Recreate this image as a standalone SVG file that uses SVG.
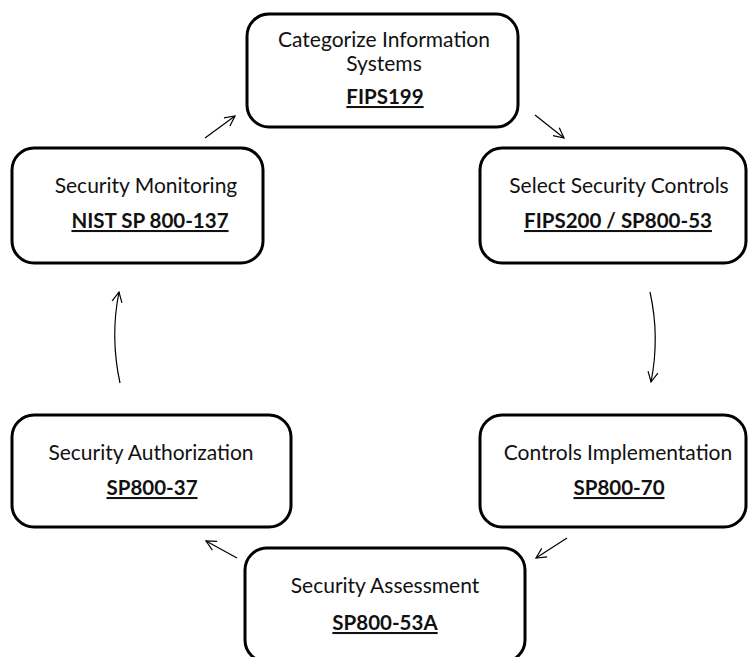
<svg xmlns="http://www.w3.org/2000/svg" width="749" height="657" viewBox="0 0 749 657">
<style>
.box{fill:#fff;stroke:#000;stroke-width:3}
.t{font-family:Lato,"Open Sans","Liberation Sans",sans-serif;font-size:21px;fill:#111;text-anchor:middle}
.b{font-weight:bold;font-size:20.5px;text-decoration:underline}
.c{fill:none;stroke:#000;stroke-width:1.2}
</style>
<defs>
<marker id="ah" viewBox="0 0 12 12" refX="11" refY="6" markerWidth="12" markerHeight="12" markerUnits="userSpaceOnUse" orient="auto">
<path d="M1,1 L11,6 L1,11" fill="none" stroke="#000" stroke-width="1.2"/>
</marker>
</defs>
<rect width="749" height="657" fill="#fff"/>
<g id="connectors">
<path class="c" d="M205,138 L235,116" marker-end="url(#ah)"/>
<path class="c" d="M535,115 L564,138" marker-end="url(#ah)"/>
<path class="c" d="M650,292 Q660,337 651,382" marker-end="url(#ah)"/>
<path class="c" d="M567,538 L536,558" marker-end="url(#ah)"/>
<path class="c" d="M237,558 L206,541" marker-end="url(#ah)"/>
<path class="c" d="M120,383 Q110,337 119,292" marker-end="url(#ah)"/>
</g>
<g id="categorize">
<rect class="box" x="247" y="14" width="271" height="113" rx="22"/>
<text class="t" x="384" y="47">Categorize Information</text>
<text class="t" x="384" y="71">Systems</text>
<text class="t b" x="385" y="104">FIPS199</text>
</g>
<g id="select">
<rect class="box" x="480" y="148" width="266" height="115" rx="22"/>
<text class="t" x="619" y="193">Select Security Controls</text>
<text class="t b" x="618" y="228">FIPS200 / SP800-53</text>
</g>
<g id="monitoring">
<rect class="box" x="12" y="148" width="251" height="115" rx="22"/>
<text class="t" x="146" y="193">Security Monitoring</text>
<text class="t b" x="150" y="228">NIST SP 800-137</text>
</g>
<g id="implementation">
<rect class="box" x="480" y="415" width="266" height="112" rx="22"/>
<text class="t" x="618" y="460">Controls Implementation</text>
<text class="t b" x="619" y="495">SP800-70</text>
</g>
<g id="authorization">
<rect class="box" x="12" y="415" width="279" height="112" rx="22"/>
<text class="t" x="151" y="460">Security Authorization</text>
<text class="t b" x="152" y="495">SP800-37</text>
</g>
<g id="assessment">
<rect class="box" x="245" y="548" width="280" height="114" rx="22"/>
<text class="t" x="385" y="593">Security Assessment</text>
<text class="t b" x="385" y="630">SP800-53A</text>
</g>
</svg>
